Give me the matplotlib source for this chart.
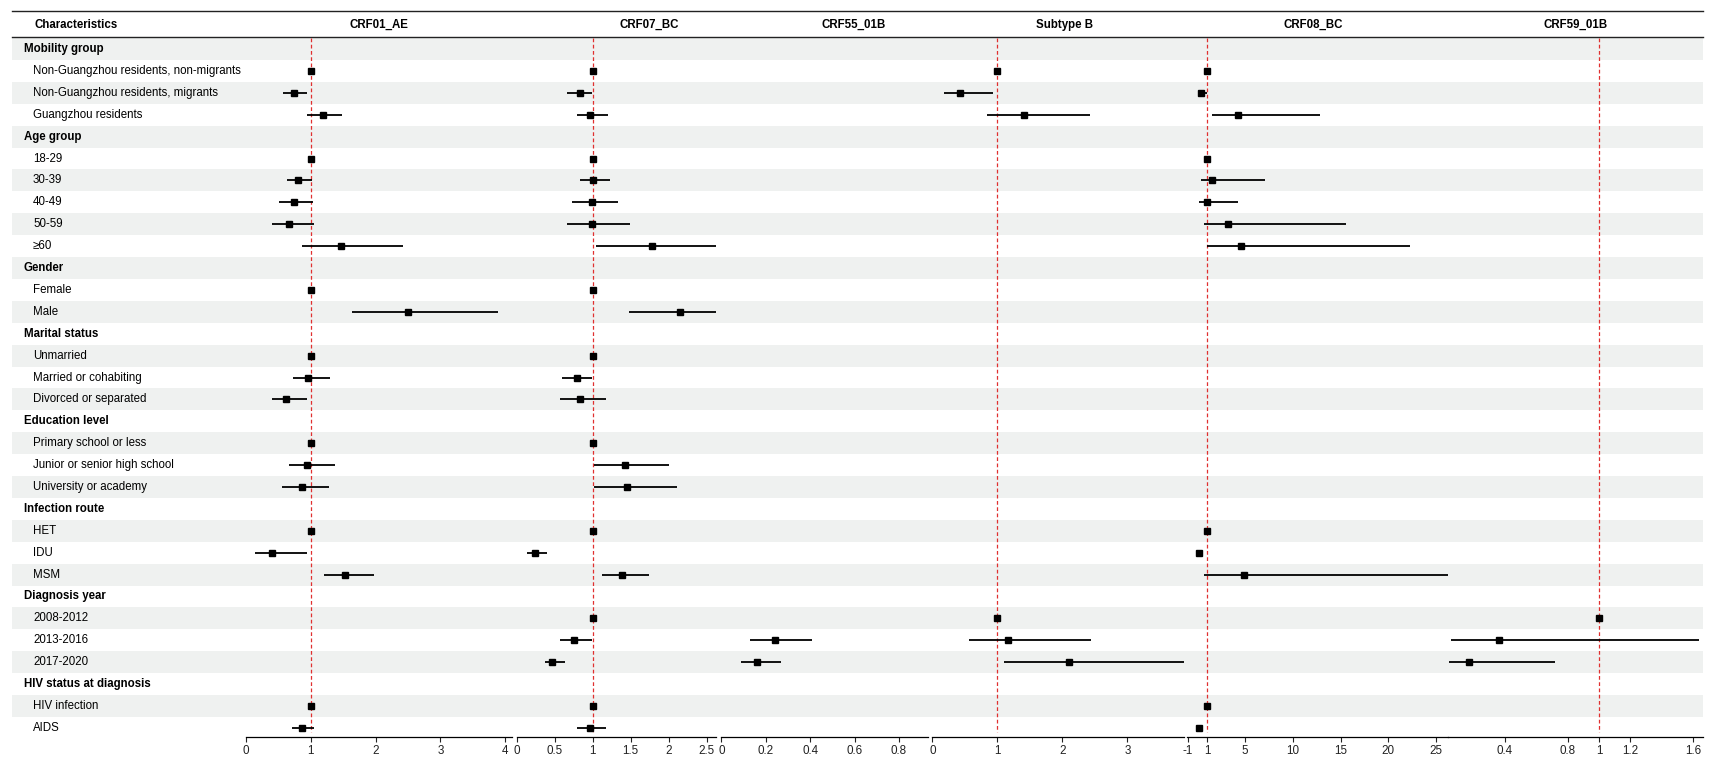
import numpy as np
import matplotlib
matplotlib.use("Agg")
from matplotlib import pyplot as plt
from matplotlib.patches import Rectangle

nan = np.nan

row_labels = [
    "Mobility group", "Non-Guangzhou residents, non-migrants",
    "Non-Guangzhou residents, migrants", "Guangzhou residents",
    "Age group", "18-29", "30-39", "40-49", "50-59", "\u226560",
    "Gender", "Female", "Male",
    "Marital status", "Unmarried", "Married or cohabiting", "Divorced or separated",
    "Education level", "Primary school or less", "Junior or senior high school",
    "University or academy",
    "Infection route", "HET", "IDU", "MSM",
    "Diagnosis year", "2008-2012", "2013-2016", "2017-2020",
    "HIV status at diagnosis", "HIV infection", "AIDS",
]
group_headers = ["Mobility group", "Age group", "Gender", "Marital status",
                 "Education level", "Infection route", "Diagnosis year",
                 "HIV status at diagnosis"]

subtypes = ["CRF01_AE", "CRF07_BC", "CRF55_01B", "Subtype B", "CRF08_BC", "CRF59_01B"]

# odds ratios and 95% CI, one value per row (nan = no estimate)
crf01_est = [nan, 1, 0.74, 1.19, nan, 1, 0.80, 0.74, 0.67, 1.47, nan, 1, 2.50, nan, 1, 0.96,
             0.62, nan, 1, 0.94, 0.86, nan, 1, 0.40, 1.53, nan, nan, nan, nan, nan, 1, 0.86]
crf01_lo = [nan, 1, 0.57, 0.94, nan, 1, 0.63, 0.51, 0.40, 0.86, nan, 1, 1.64, nan, 1, 0.73,
            0.40, nan, 1, 0.66, 0.56, nan, 1, 0.15, 1.20, nan, nan, nan, nan, nan, 1, 0.72]
crf01_hi = [nan, 1, 0.95, 1.49, nan, 1, 1.02, 1.03, 1.06, 2.43, nan, 1, 3.88, nan, 1, 1.30,
            0.94, nan, 1, 1.37, 1.28, nan, 1, 0.94, 1.97, nan, nan, nan, nan, nan, 1, 1.05]

crf07_est = [nan, 1, 0.83, 0.97, nan, 1, 1.00, 0.99, 0.99, 1.78, nan, 1, 2.15, nan, 1, 0.80,
             0.83, nan, 1, 1.42, 1.45, nan, 1, 0.24, 1.39, nan, 1, 0.76, 0.47, nan, 1, 0.97]
crf07_lo = [nan, 1, 0.66, 0.80, nan, 1, 0.83, 0.73, 0.66, 1.04, nan, 1, 1.48, nan, 1, 0.60,
            0.57, nan, 1, 1.02, 1.02, nan, 1, 0.14, 1.12, nan, 1, 0.57, 0.37, nan, 1, 0.80]
crf07_hi = [nan, 1, 0.99, 1.20, nan, 1, 1.23, 1.33, 1.49, 2.62, nan, 1, 2.62, nan, 1, 0.99,
            1.18, nan, 1, 2.01, 2.11, nan, 1, 0.40, 1.74, nan, 1, 0.99, 0.64, nan, 1, 1.18]

crf55_est = [nan] * 27 + [0.24, 0.16] + [nan] * 3
crf55_lo = [nan] * 27 + [0.13, 0.09] + [nan] * 3
crf55_hi = [nan] * 27 + [0.41, 0.27] + [nan] * 3

subb_est = [nan, 1, 0.43, 1.41] + [nan] * 22 + [1, 1.16, 2.10] + [nan] * 3
subb_lo = [nan, 1, 0.18, 0.84] + [nan] * 22 + [1, 0.56, 1.10] + [nan] * 3
subb_hi = [nan, 1, 0.94, 2.42] + [nan] * 22 + [1, 2.44, 3.88] + [nan] * 3

crf08_est = [nan, 1, 0.34, 4.23, nan, 1, 1.49, 1.00, 3.18, 4.55] + [nan] * 12 + \
            [1, 0.20, 4.85] + [nan] * 5 + [1, 0.19]
crf08_lo = [nan, 1, 0.10, 1.49, nan, 1, 0.34, 0.19, 0.72, 1.03] + [nan] * 12 + \
           [1, 0.10, 0.72] + [nan] * 5 + [1, 0.10]
crf08_hi = [nan, 1, 1.00, 12.8, nan, 1, 7.10, 4.23, 15.6, 22.3] + [nan] * 12 + \
           [1, 0.40, 26.3] + [nan] * 5 + [1, 0.35]

crf59_est = [nan] * 26 + [1, 0.36, 0.17] + [nan] * 3
crf59_lo = [nan] * 26 + [1, 0.057, 0.045] + [nan] * 3
crf59_hi = [nan] * 26 + [1, 1.64, 0.72] + [nan] * 3

estimates = [crf01_est, crf07_est, crf55_est, subb_est, crf08_est, crf59_est]
lowers = [crf01_lo, crf07_lo, crf55_lo, subb_lo, crf08_lo, crf59_lo]
uppers = [crf01_hi, crf07_hi, crf55_hi, subb_hi, crf08_hi, crf59_hi]

x_ranges = [(0, 4.1), (0, 2.62), (0, 0.93), (0, 3.88), (-1.1, 26.3), (0.04, 1.66)]
x_ticks = [[0, 1, 2, 3, 4], [0, 0.5, 1, 1.5, 2, 2.5], [0, 0.2, 0.4, 0.6, 0.8],
           [0, 1, 2, 3], [-1, 1, 5, 10, 15, 20, 25], [0.4, 0.8, 1, 1.2, 1.6]]

# layout in pixels
W, H = 1715, 771
row0, row_h = 49, 21.9
head_top, head_bot = 11, 37
axis_y = 737
left_edge, right_edge = 12, 1703
panel_px = [(245.7, 511.8), (516.7, 715.8), (721.3, 927.8),
            (932.3, 1184.5), (1187.0, 1448.3), (1448.3, 1702.6)]
header_x = [379, 649, 854, 1065, 1313, 1576]

plt.rcParams['font.family'] = ['Liberation Sans', 'DejaVu Sans']
fs = 8.3

fig = plt.figure(figsize=(W / 100, H / 100), dpi=100)
bg = fig.add_axes([0, 0, 1, 1])
bg.set_xlim(0, W)
bg.set_ylim(H, 0)
bg.axis('off')

n_rows = len(row_labels)
for i, lab in enumerate(row_labels):
    yc = row0 + i * row_h
    if i % 2 == 0:
        bg.add_patch(Rectangle((left_edge, yc - row_h / 2), right_edge - left_edge, row_h,
                               facecolor='#eff1f0', edgecolor='none', zorder=0))
    if lab in group_headers:
        bg.text(24, yc, lab, fontsize=fs, fontweight='bold', va='center', ha='left')
    else:
        bg.text(33, yc, lab, fontsize=fs, va='center', ha='left')

bg.plot([left_edge, right_edge], [head_top, head_top], color='#222222', lw=1.0)
bg.plot([left_edge, right_edge], [head_bot, head_bot], color='#222222', lw=1.0)
bg.text(35, 25, "Characteristics", fontsize=fs, fontweight='bold', va='center', ha='left')
for name, hx in zip(subtypes, header_x):
    bg.text(hx, 25, name, fontsize=fs, fontweight='bold', va='center', ha='center')

k_top = (head_bot + 1 - row0) / row_h
k_bot = (axis_y - row0) / row_h
rows = np.arange(n_rows)

for j in range(len(subtypes)):
    x0, x1 = panel_px[j]
    ax = fig.add_axes([x0 / W, 1 - axis_y / H, (x1 - x0) / W, (axis_y - head_bot - 1) / H])
    ax.set_facecolor('none')
    ax.set_xlim(*x_ranges[j])
    ax.set_ylim(k_bot, k_top)
    for s in ['top', 'left', 'right']:
        ax.spines[s].set_visible(False)
    ax.spines['bottom'].set_linewidth(0.9)
    ax.set_yticks([])
    ax.set_xticks(x_ticks[j])
    ax.set_xticklabels([f"{t:g}" for t in x_ticks[j]],
                       family=['Liberation Sans Narrow', 'Liberation Sans'], fontsize=8.4)
    ax.tick_params(axis='x', length=3.6, width=0.8, pad=2.0, colors='#222222')

    lo_j, xr = x_ranges[j]
    if lo_j <= 1 <= xr:
        ax.plot([1, 1], [k_top, 31.2], color='#e03030', lw=0.9, dashes=(3, 2), zorder=1)

    est = np.array(estimates[j], dtype=float)
    lo = np.array(lowers[j], dtype=float)
    hi = np.array(uppers[j], dtype=float)
    ok = ~np.isnan(est)
    ax.hlines(rows[ok], lo[ok], hi[ok], color='black', lw=1.3, zorder=2)
    ax.plot(est[ok], rows[ok], 's', color='black', markersize=4.8, zorder=3)

fig.savefig("out.png", dpi=100)
